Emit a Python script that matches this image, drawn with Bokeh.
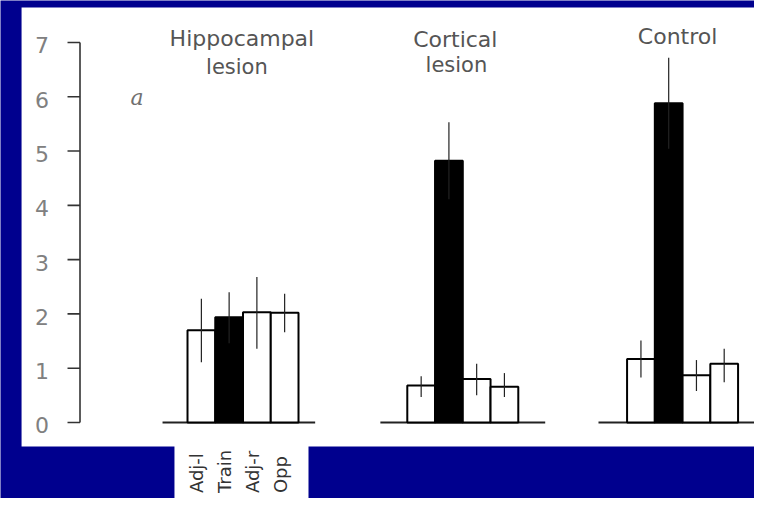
from bokeh.plotting import figure
from bokeh.models import Range1d, ColumnDataSource
from bokeh.core.properties import value
from bokeh.embed import file_html
from bokeh.resources import INLINE

# ---- data ----
group_names = ["Hippocampal", "Cortical", "Control"]
group_sub = ["lesion", "lesion", ""]
quadrants = ["Adj-l", "Train", "Adj-r", "Opp"]
y_ticks = [0, 1, 2, 3, 4, 5, 6, 7]

hippo_mean = [1.70, 1.94, 2.03, 2.02]
hippo_hi = [2.28, 2.40, 2.68, 2.37]
hippo_lo = [1.11, 1.46, 1.36, 1.66]

cortical_mean = [0.68, 4.82, 0.80, 0.66]
cortical_hi = [0.85, 5.53, 1.08, 0.91]
cortical_lo = [0.47, 4.11, 0.50, 0.47]

control_mean = [1.17, 5.88, 0.87, 1.08]
control_hi = [1.51, 6.72, 1.15, 1.36]
control_lo = [0.83, 5.04, 0.58, 0.74]

# ---- layout / style ----
BLUE = "#00008E"
GROUP_GAP = 7.92
BAR_W = 1.0
FONT = value("DejaVu Sans")

p = figure(width=754, height=498, output_backend="svg", toolbar_location=None,
           x_range=Range1d(-8.739, 18.432), y_range=Range1d(-1.400, 7.773),
           x_axis_location=None, y_axis_location=None,
           min_border=0, min_border_left=0, min_border_right=0,
           min_border_top=0, min_border_bottom=0,
           background_fill_color=BLUE, border_fill_color=BLUE,
           outline_line_color=None)
p.grid.visible = False

# white panel and white label box
p.quad(left=[-7.98], right=[25], bottom=[-0.442], top=[7.644],
       fill_color="white", line_color=None)
p.quad(left=[-2.47], right=[2.36], bottom=[-3], top=[-0.43],
       fill_color="white", line_color=None)

# y axis drawn with the data scale
AX_X = -5.874
p.segment(x0=[AX_X], y0=[y_ticks[0]], x1=[AX_X], y1=[y_ticks[-1]],
          line_color="#333333", line_width=1.6)
p.segment(x0=[AX_X - 0.45] * len(y_ticks), y0=y_ticks,
          x1=[AX_X] * len(y_ticks), y1=y_ticks,
          line_color="#333333", line_width=1.6)
p.text(x=[-7.24] * len(y_ticks), y=y_ticks, text=[str(t) for t in y_ticks],
       text_font=FONT, text_font_size="22px", text_color="#808080",
       text_align="center", text_baseline="middle", y_offset=3)

# panel letter
p.text(x=[-3.82], y=[5.986], text=["a"], text_font=value("DejaVu Serif"),
       text_font_style="italic", text_font_size="22px", text_color="#707070",
       text_align="center", text_baseline="alphabetic")

means = [hippo_mean, cortical_mean, control_mean]
his = [hippo_hi, cortical_hi, control_hi]
los = [hippo_lo, cortical_lo, control_lo]
base_extent = [(-2.9, 2.6), (-2.97, 2.97), (-3.03, 3.6)]
title_dx = [-0.04, -0.27, -0.18]
sub_dx = [-0.22, -0.23, 0.0]
title_y = [7.073, 7.055, 7.11]
sub_y = [6.539, 6.594, 6.6]

for g in range(3):
    c = g * GROUP_GAP
    xs = [c + (k - 1.5) * BAR_W for k in range(4)]
    fills = ["black" if q == "Train" else "white" for q in quadrants]
    # baseline
    p.segment(x0=[c + base_extent[g][0]], y0=[0], x1=[c + base_extent[g][1]], y1=[0],
              line_color="#222222", line_width=2)
    src = ColumnDataSource(dict(x=xs, top=means[g], fill=fills,
                                hi=his[g], lo=los[g]))
    p.vbar(x="x", top="top", bottom=0, width=BAR_W, fill_color="fill",
           line_color="black", line_width=2, source=src)
    p.segment(x0="x", y0="lo", x1="x", y1="hi", line_color="#222222",
              line_width=1.2, source=src)
    p.text(x=[c + title_dx[g]], y=[title_y[g]], text=[group_names[g]],
           text_font=FONT, text_font_size="22px", text_color="#555555",
           text_align="center", text_baseline="alphabetic")
    if group_sub[g]:
        p.text(x=[c + sub_dx[g]], y=[sub_y[g]], text=[group_sub[g]],
               text_font=FONT, text_font_size="21px", text_color="#555555",
               text_align="center", text_baseline="alphabetic")

# rotated quadrant labels under the first group
lab_x = [(k - 1.5) * BAR_W - 0.16 for k in range(4)]
p.text(x=lab_x, y=[-1.30] * 4, text=quadrants, angle=1.5708,
       text_font=FONT, text_font_size="18px", text_color="#333333",
       text_align="left", text_baseline="middle")

open("out.html", "w").write(file_html(p, INLINE))
